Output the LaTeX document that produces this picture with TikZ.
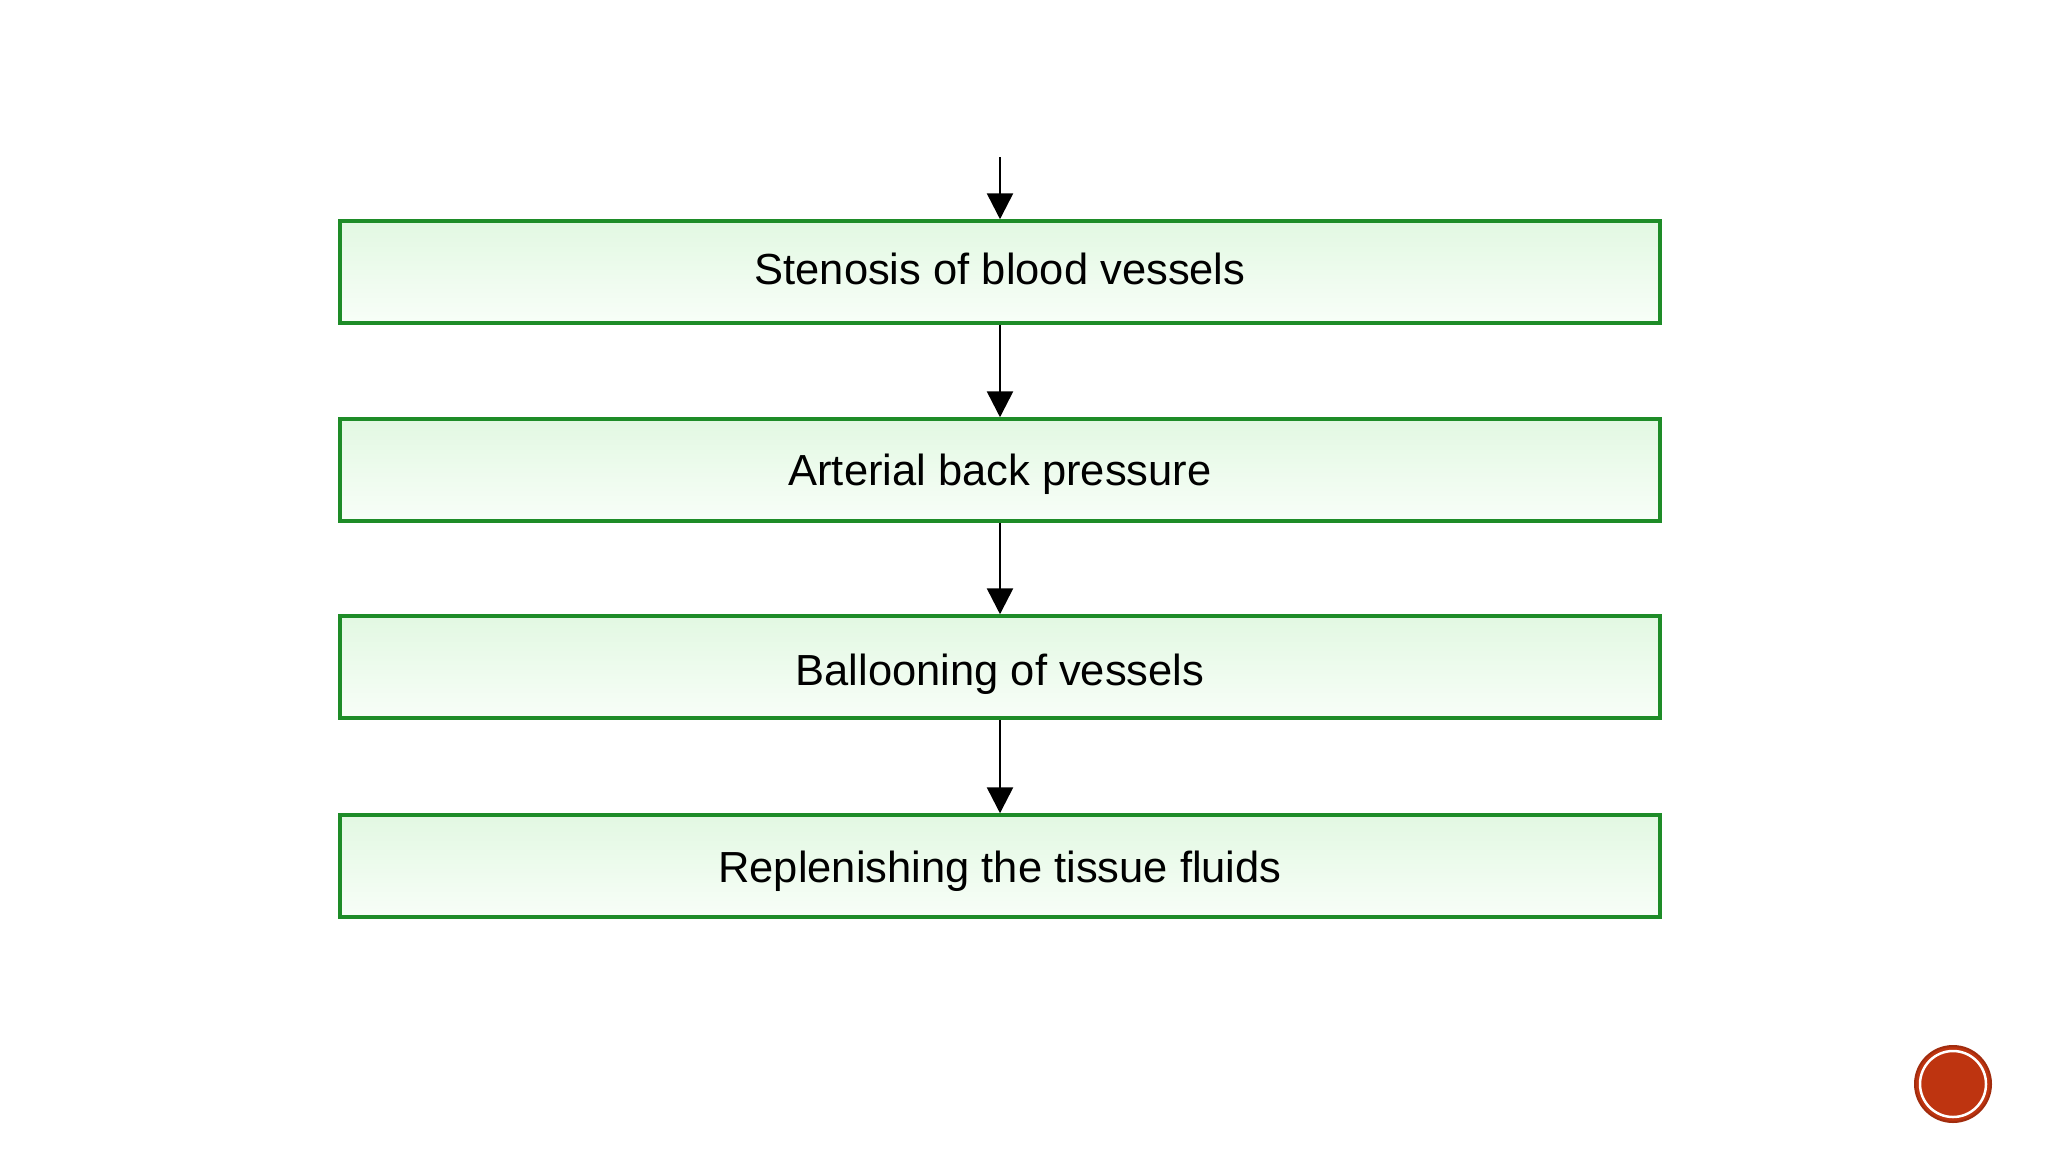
\documentclass[tikz,border=0pt]{standalone}
\usepackage{fontspec}
\setmainfont{Liberation Sans}
\usetikzlibrary{arrows.meta,shadings}
\definecolor{boxgreen}{RGB}{30,140,40}
\definecolor{filltop}{RGB}{226,248,226}
\definecolor{fillbot}{RGB}{248,254,248}
\definecolor{dotred}{RGB}{190,52,16}
\tikzset{
  flowbox/.style={draw=boxgreen, line width=3.5pt, top color=filltop, bottom color=fillbot,
    minimum width=1320pt, minimum height=102pt, inner sep=0pt,
    text height=31pt, text depth=0pt,
    font=\fontsize{43.5}{50}\selectfont},
  flowarrow/.style={draw=black, line width=2.6pt, -{Triangle[length=26pt,width=26pt]}}
}
\begin{document}
\begin{tikzpicture}[x=1pt,y=-1pt]
\useasboundingbox (0,0) rectangle (2048,1152);
\fill[white] (0,0) rectangle (2048,1152);
\coordinate (start) at (1000,157);
\node[flowbox] (b1) at (1000,272) {\raisebox{3pt}{Stenosis of blood vessels}};
\node[flowbox] (b2) at (1000,470) {Arterial back pressure};
\node[flowbox] (b3) at (1000,667) {\raisebox{-3pt}{Ballooning of vessels}};
\node[flowbox] (b4) at (1000,866) {\raisebox{-1pt}{Replenishing the tissue fluids}};
\draw[flowarrow] (start) -- (b1.north);
\draw[flowarrow] (b1.south) -- (b2.north);
\draw[flowarrow] (b2.south) -- (b3.north);
\draw[flowarrow] (b3.south) -- (b4.north);
\node[circle, fill=dotred, draw=dotred!85!black, line width=2pt, minimum size=76pt, inner sep=0pt] (dot) at (1953,1084) {};
\draw[white, line width=2.5pt] (dot.center) circle (33pt);
\end{tikzpicture}
\end{document}
